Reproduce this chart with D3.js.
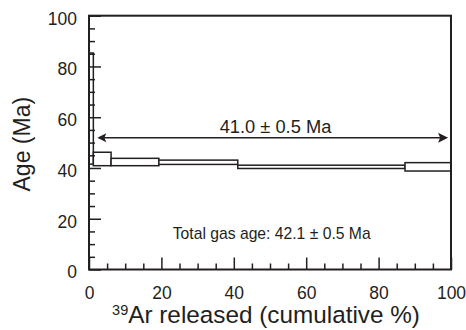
<!DOCTYPE html>
<html>
<head>
<meta charset="utf-8">
<script src="https://cdn.jsdelivr.net/npm/d3@7"></script>
<style>
  html, body { margin: 0; padding: 0; background: #fff; }
  svg { display: block; }
  text { font-family: "Liberation Sans", Arial, Helvetica, sans-serif; fill: #231f20; }
</style>
</head>
<body>
<svg id="chart" width="466" height="330"></svg>
<script>
// ---- data ----
const stepStart = [0, 1.2, 6.1, 19.3, 41.1, 87.3];      // cumulative 39Ar % (left edge)
const stepEnd   = [1.2, 6.1, 19.3, 41.1, 87.3, 100];    // cumulative 39Ar % (right edge)
const ageLow    = [41.5, 40.9, 40.9, 41.4, 39.8, 38.8]; // Ma (lower bound of box)
const ageHigh   = [85.3, 46.2, 43.8, 43.1, 41.1, 42.1]; // Ma (upper bound of box)
const plateauFrom = 2.3, plateauTo = 99.2, plateauAge = 51.9;
const plateauLabel = "41.0 \u00b1 0.5 Ma";
const totalGasLabel = "Total gas age: 42.1 \u00b1 0.5 Ma";
const xMajorTicks = [0, 20, 40, 60, 80, 100];
const yMajorTicks = [0, 20, 40, 60, 80, 100];
const xMinorTicks = d3.range(0, 101, 5).filter(v => v % 20 !== 0);
const yMinorTicks = d3.range(0, 101, 5).filter(v => v % 20 !== 0);

// ---- layout ----
const svg = d3.select("#chart");
const x = d3.scaleLinear().domain([0, 100]).range([89, 451]);
const y = d3.scaleLinear().domain([0, 100]).range([269.5, 15.7]);
const ink = "#231f20";

// step boxes
const steps = stepStart.map((s, i) => ({ s, e: stepEnd[i], lo: ageLow[i], hi: ageHigh[i] }));
svg.append("g").selectAll("rect").data(steps).join("rect")
  .attr("x", d => x(d.s))
  .attr("y", d => y(d.hi))
  .attr("width", d => x(d.e) - x(d.s))
  .attr("height", d => y(d.lo) - y(d.hi))
  .attr("fill", "#fff")
  .attr("stroke", ink)
  .attr("stroke-width", 1.5);

// minor ticks
const minorY = svg.append("g").attr("transform", `translate(${x(0)},0)`)
  .call(d3.axisLeft(y).tickValues(yMinorTicks).tickSize(-6).tickSizeOuter(0).tickFormat(""));
const minorX = svg.append("g").attr("transform", `translate(0,${y(0)})`)
  .call(d3.axisBottom(x).tickValues(xMinorTicks).tickSize(-6).tickSizeOuter(0).tickFormat(""));
[minorY, minorX].forEach(g => {
  g.select(".domain").remove();
  g.selectAll(".tick line").attr("stroke", ink).attr("stroke-width", 1.5);
});

// major ticks + labels
const yAxis = svg.append("g").attr("transform", `translate(${x(0)},0)`)
  .call(d3.axisLeft(y).tickValues(yMajorTicks).tickSize(-12).tickSizeOuter(0).tickPadding(12));
const xAxis = svg.append("g").attr("transform", `translate(0,${y(0)})`)
  .call(d3.axisBottom(x).tickValues(xMajorTicks).tickSize(-12).tickSizeOuter(0).tickPadding(17));
[yAxis, xAxis].forEach(g => {
  g.select(".domain").remove();
  g.selectAll(".tick line").attr("stroke", ink).attr("stroke-width", 1.5);
  g.selectAll(".tick text").attr("font-size", 17.5).attr("fill", ink)
    .style("font-family", '"Liberation Sans", Arial, sans-serif');
});
yAxis.selectAll(".tick text").attr("dy", "0.48em");

// frame
svg.append("rect")
  .attr("x", x(0)).attr("y", y(100))
  .attr("width", x(100) - x(0)).attr("height", y(0) - y(100))
  .attr("fill", "none").attr("stroke", ink).attr("stroke-width", 2);

// plateau arrow
const ay = y(plateauAge);
const x1 = x(plateauFrom), x2 = x(plateauTo);
svg.append("line").attr("x1", x1 + 4).attr("x2", x2 - 4).attr("y1", ay).attr("y2", ay)
  .attr("stroke", ink).attr("stroke-width", 1.5);
svg.append("path")
  .attr("d", `M${x1},${ay} L${x1 + 9},${ay - 4.5} L${x1 + 7},${ay} L${x1 + 9},${ay + 4.5} Z`)
  .attr("fill", ink);
svg.append("path")
  .attr("d", `M${x2},${ay} L${x2 - 10},${ay - 5} L${x2 - 8},${ay} L${x2 - 10},${ay + 5} Z`)
  .attr("fill", ink);

// texts
svg.append("text").attr("x", 275.5).attr("y", 132.7).attr("text-anchor", "middle")
  .attr("font-size", 18.3).text(plateauLabel);
svg.append("text").attr("x", 271.7).attr("y", 239).attr("text-anchor", "middle")
  .attr("font-size", 15.7).text(totalGasLabel);

// axis titles
const xt = svg.append("text").attr("x", 266).attr("y", 323).attr("text-anchor", "middle")
  .attr("font-size", 24.3);
xt.append("tspan").attr("font-size", 14.5).attr("dy", -8).text("39");
xt.append("tspan").attr("dy", 8).text("Ar released (cumulative %)");

svg.append("text")
  .attr("transform", `translate(29.5,144.2) rotate(-90)`)
  .attr("text-anchor", "middle")
  .attr("font-size", 23)
  .text("Age (Ma)");
</script>
</body>
</html>
